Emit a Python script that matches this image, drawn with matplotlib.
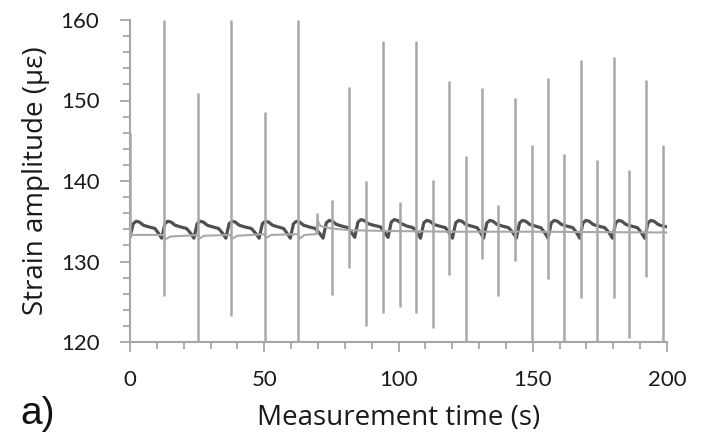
import matplotlib
matplotlib.use("Agg")
import matplotlib.pyplot as plt
from matplotlib.ticker import MultipleLocator

# ---- data ----
# dark series (smoothed strain amplitude), time (s) and value (µε)
dark_t = [0.0, 1.2, 2.3, 3.5, 5.0, 7.0, 9.3, 10.6, 11.8,
          13.0, 14.1, 15.3, 16.8, 18.8, 21.1, 22.6, 23.8,
          25.0, 26.1, 27.3, 28.8, 30.8, 33.0, 34.5, 35.7,
          36.9, 38.0, 39.2, 40.7, 42.7, 45.2, 46.8, 48.1,
          49.3, 50.4, 51.6, 53.1, 55.1, 57.2, 58.5, 59.7,
          60.9, 62.0, 63.2, 64.7, 66.7, 69.0, 70.6, 71.9,
          73.1, 74.2, 75.4, 76.9, 78.9, 81.2, 82.5, 83.7,
          84.9, 86.0, 87.2, 88.7, 90.7, 93.3, 94.8, 96.1,
          97.3, 98.4, 99.6, 101.1, 103.1, 105.4, 106.9, 108.2,
          109.4, 110.5, 111.7, 113.2, 115.2, 117.5, 118.8, 120.1,
          121.3, 122.4, 123.6, 125.1, 127.1, 129.3, 130.5, 131.7,
          132.9, 134.0, 135.2, 136.7, 138.7, 141.0, 142.6, 143.9,
          145.1, 146.2, 147.4, 148.9, 150.9, 153.0, 154.4, 155.7,
          156.9, 158.0, 159.2, 160.7, 162.7, 164.9, 166.3, 167.5,
          168.7, 169.8, 171.0, 172.5, 174.5, 176.8, 178.4, 179.7,
          180.9, 182.0, 183.2, 184.7, 186.7, 189.0, 190.4, 191.7,
          192.9, 194.0, 195.2, 196.7, 198.5, 200.0]
dark_v = [133.1, 134.7, 135.0, 134.9, 134.5, 134.3, 134.1, 133.5, 132.9,
          134.7, 135.0, 134.9, 134.5, 134.3, 134.1, 133.5, 132.9,
          134.7, 135.0, 134.9, 134.5, 134.3, 134.1, 133.5, 132.9,
          134.7, 135.0, 134.9, 134.5, 134.3, 134.1, 133.5, 132.9,
          134.7, 135.0, 134.9, 134.5, 134.3, 134.1, 133.5, 132.9,
          134.7, 135.0, 134.9, 134.5, 134.3, 134.1, 133.5, 132.9,
          134.8, 135.1, 135.0, 134.6, 134.4, 134.2, 133.6, 133.0,
          134.9, 135.2, 135.1, 134.7, 134.5, 134.3, 133.6, 133.0,
          134.9, 135.2, 135.1, 134.7, 134.4, 134.2, 133.6, 132.9,
          134.8, 135.1, 135.0, 134.6, 134.4, 134.2, 133.6, 132.9,
          134.8, 135.1, 135.0, 134.6, 134.4, 134.2, 133.6, 132.9,
          134.8, 135.1, 135.0, 134.6, 134.4, 134.2, 133.6, 132.9,
          134.8, 135.1, 135.0, 134.6, 134.4, 134.2, 133.6, 132.9,
          134.8, 135.1, 135.0, 134.6, 134.4, 134.2, 133.6, 132.9,
          134.8, 135.1, 135.0, 134.6, 134.4, 134.2, 133.6, 132.9,
          134.8, 135.1, 135.0, 134.6, 134.4, 134.2, 133.6, 132.9,
          134.8, 135.1, 135.0, 134.6, 134.4, 134.3]

# light series baseline (raw strain amplitude between spikes)
base_t = [0.0, 12.6, 13.0, 15.0, 25.3, 25.7, 27.5, 37.5, 37.9, 40.0,
          50.2, 50.6, 52.5, 62.6, 63.0, 65.0, 69.4, 69.9, 71.0, 75.0,
          81.5, 94.0, 120.0, 150.0, 200.0]
base_v = [133.3, 133.3, 132.7, 133.1, 133.3, 132.8, 133.2, 133.3, 132.8, 133.2,
          133.4, 132.9, 133.3, 133.4, 132.8, 133.3, 133.4, 135.0, 134.4, 134.1,
          133.9, 133.8, 133.7, 133.7, 133.6]

# light series spikes: time, top and bottom of each vertical excursion
spike_t = [0.0, 12.7, 25.4, 37.6, 50.3, 62.7, 69.5, 75.1, 81.6, 87.9,
           94.2, 100.6, 106.6, 112.7, 118.8, 125.1, 131.2, 137.0, 143.5, 149.6,
           155.5, 161.7, 167.8, 173.8, 180.1, 186.0, 192.1, 198.6]
spike_hi = [146.0, 160.0, 150.9, 160.0, 148.6, 160.0, 136.0, 137.7, 151.7, 140.0,
            157.4, 137.4, 157.4, 140.1, 152.4, 143.1, 151.6, 137.0, 150.3, 144.5,
            152.8, 143.3, 155.0, 142.6, 155.4, 141.4, 152.5, 144.5]
spike_lo = [133.3, 125.7, 119.0, 123.2, 119.0, 119.0, 133.6, 125.8, 129.2, 122.0,
            123.6, 124.4, 123.6, 121.7, 128.3, 119.0, 130.3, 125.7, 130.1, 119.0,
            127.8, 119.0, 125.5, 119.0, 125.5, 120.5, 128.1, 119.0]

x_ticks = [0, 50, 100, 150, 200]
y_ticks = [120, 130, 140, 150, 160]

# ---- figure ----
fig = plt.figure(figsize=(7.13, 4.45), dpi=100)
ax = fig.add_axes([130 / 713, (445 - 342) / 445, (667 - 130) / 713, (342 - 20) / 445])

light = "#a8a8a8"
dark = "#505050"
axis_col = "#a6a6a6"

ax.plot(dark_t, dark_v, color=dark, lw=2.3, zorder=2, solid_joinstyle="round")
ax.plot(base_t, base_v, color=light, lw=1.5, zorder=3)
ax.vlines(spike_t, spike_lo, spike_hi, color=light, lw=1.8, zorder=3)

ax.set_xlim(0, 200)
ax.set_ylim(120, 160)
ax.set_xticks(x_ticks)
ax.set_yticks(y_ticks)
ax.xaxis.set_minor_locator(MultipleLocator(10))
ax.yaxis.set_minor_locator(MultipleLocator(2))

for s in ["top", "right"]:
    ax.spines[s].set_visible(False)
for s in ["left", "bottom"]:
    ax.spines[s].set_color(axis_col)
    ax.spines[s].set_linewidth(1.5)

tick_font = "Lato"
label_font = "Open Sans"
ax.tick_params(axis="both", which="major", direction="out", length=7, width=1.3,
               color=axis_col, labelsize=16, labelcolor="#1a1a1a")
ax.tick_params(axis="both", which="minor", direction="out", length=5, width=1.3,
               color=axis_col)
ax.tick_params(axis="x", which="major", pad=13)
ax.tick_params(axis="y", which="major", pad=15)
for lab in ax.get_xticklabels() + ax.get_yticklabels():
    lab.set_fontfamily(tick_font)

ax.set_xlabel("Measurement time (s)", fontsize=20, family=label_font,
              color="#1a1a1a", labelpad=10)
ax.set_ylabel("Strain amplitude (\u03bc\u03b5)", fontsize=20, family=label_font,
              color="#1a1a1a", labelpad=8)

fig.text(20 / 713, 1 - 414 / 445, "a)", fontsize=28, family="Liberation Sans",
         va="center", ha="left", color="#111111")

fig.savefig("out.png", dpi=100)
